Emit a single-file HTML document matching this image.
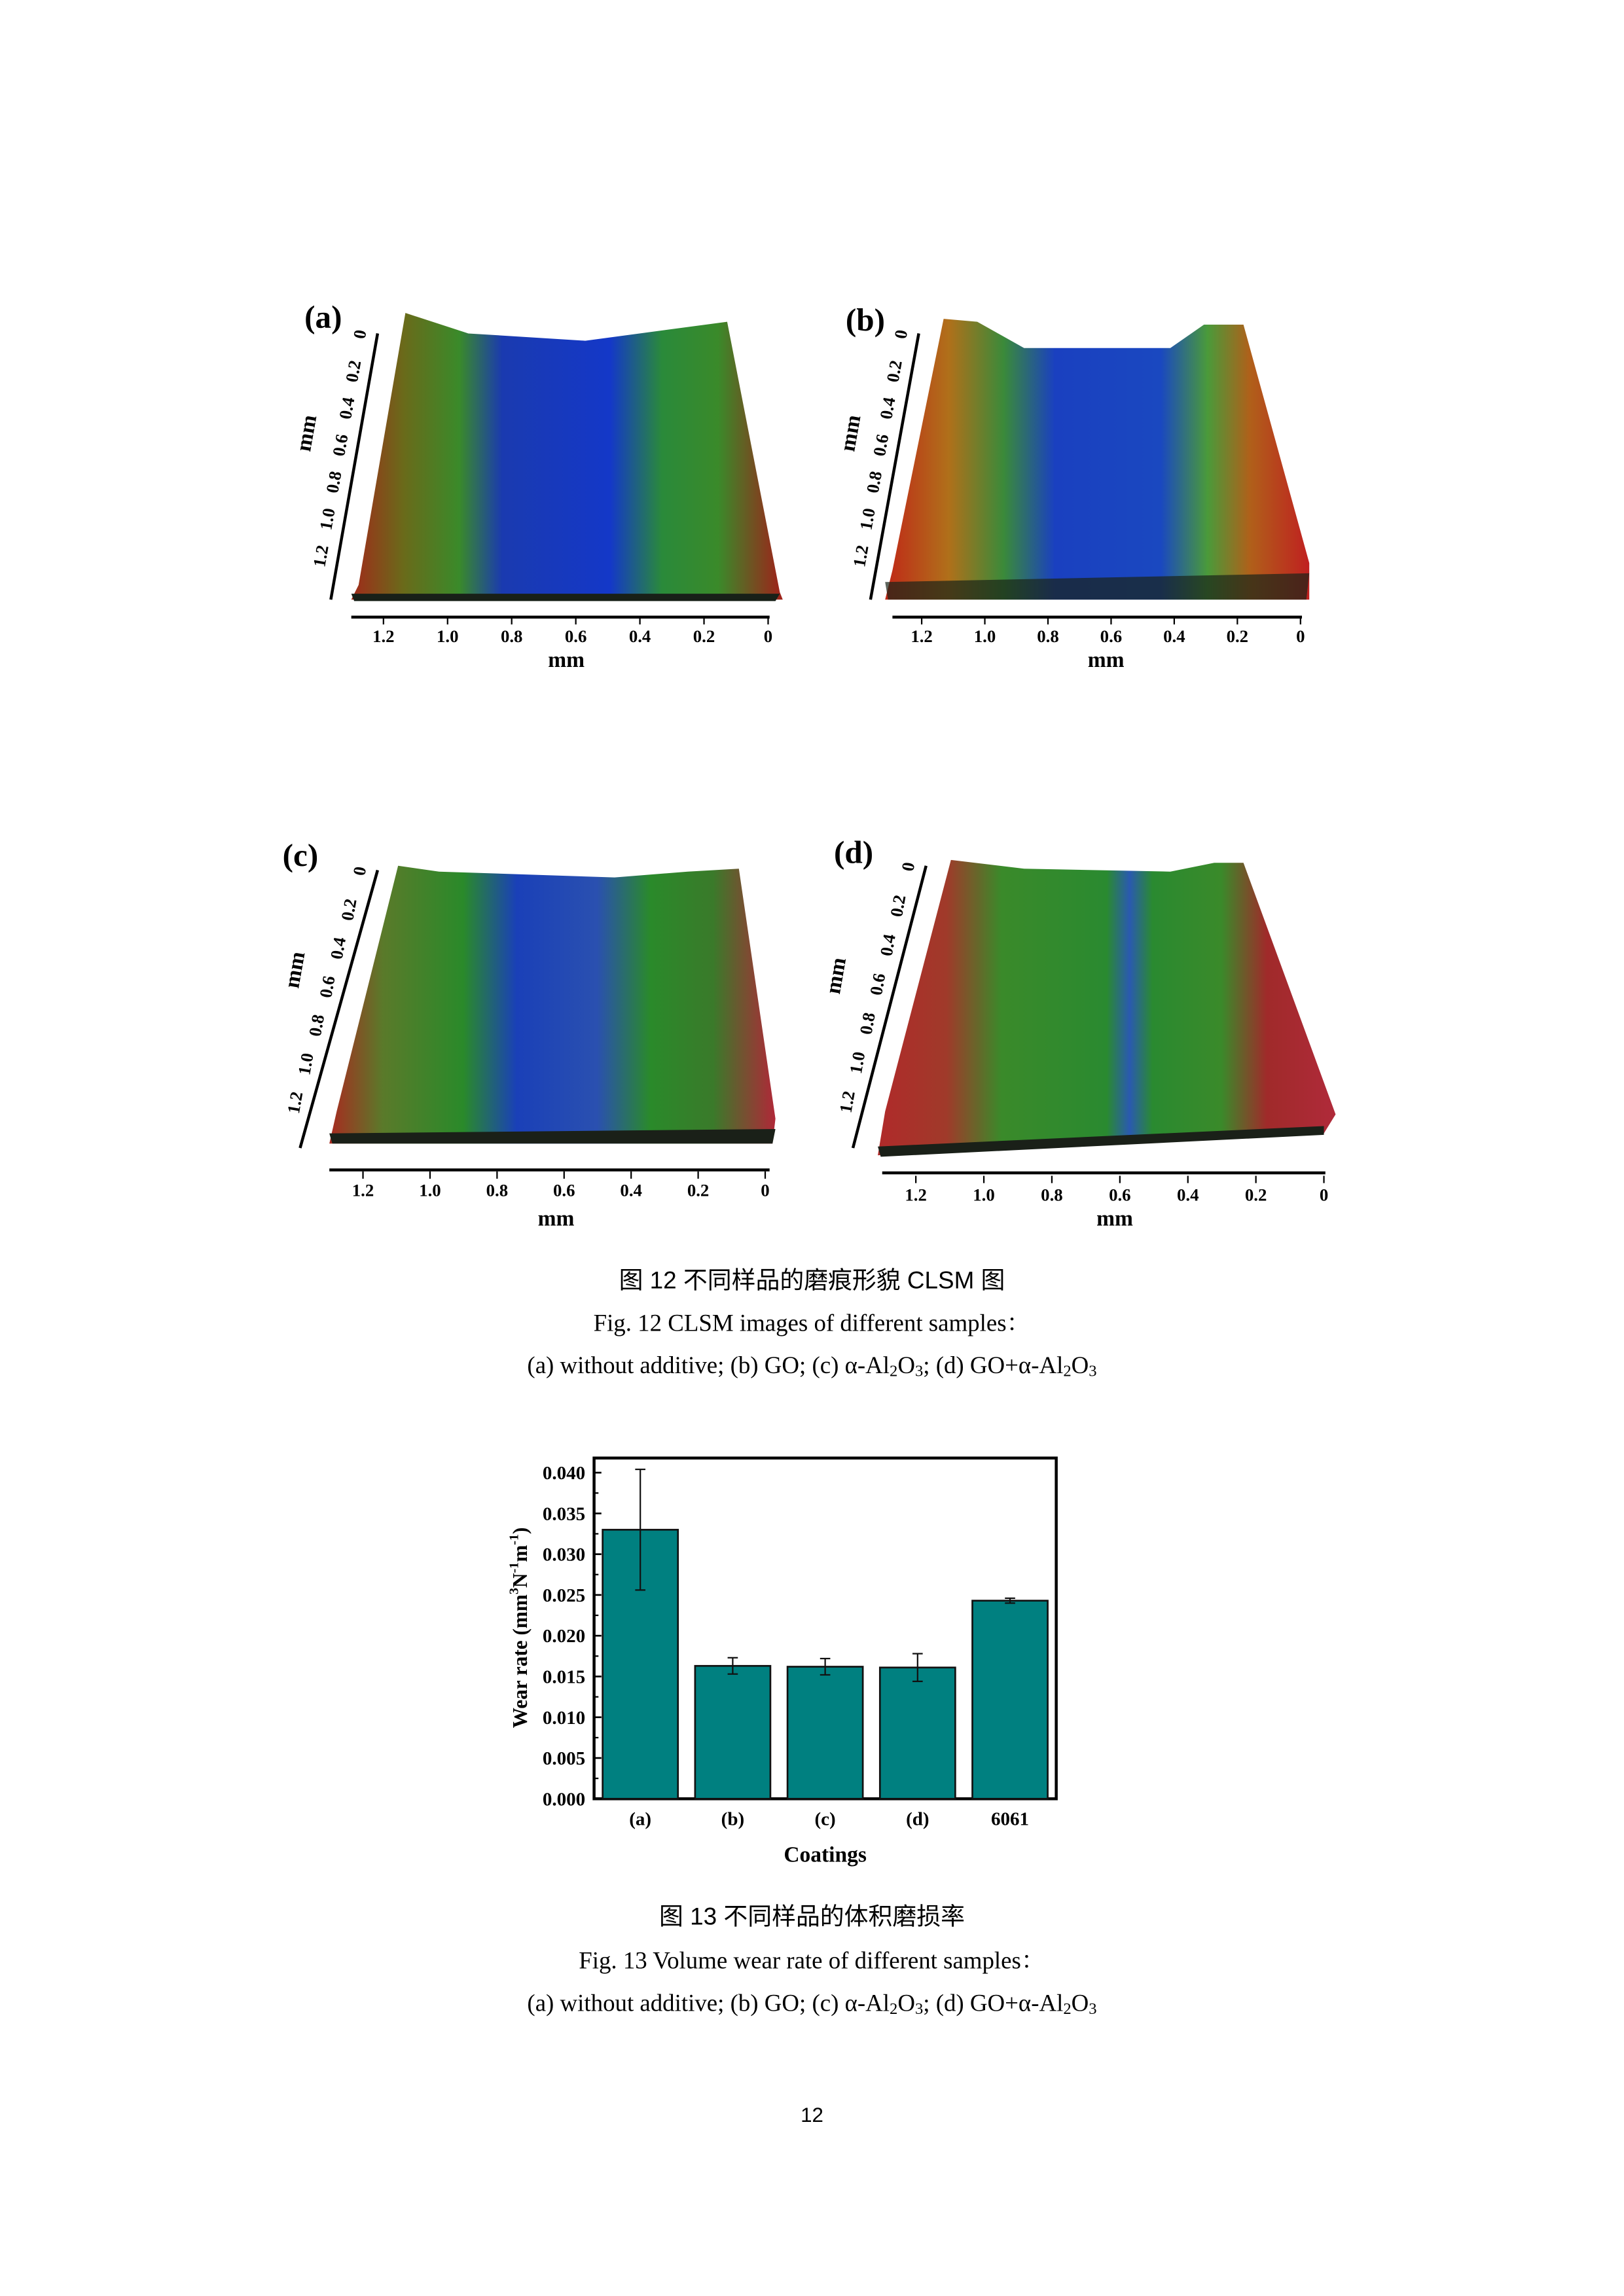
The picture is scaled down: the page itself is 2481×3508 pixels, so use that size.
<!DOCTYPE html>
<html><head><meta charset="utf-8"><style>
html,body{margin:0;padding:0;background:#fff}
svg{display:block}
.t{font-family:"Liberation Serif",serif;font-weight:bold}
.c{font-family:"Liberation Serif","Noto Serif CJK SC",serif}
.k{font-family:"Liberation Sans","Noto Sans CJK SC",sans-serif}
</style></head><body>
<svg id="page" width="2481" height="3508" viewBox="0 0 1110 1570" xmlns="http://www.w3.org/2000/svg">
<defs>
<linearGradient id="ga" x1="0" x2="1" y1="0" y2="0">
<stop offset="0" stop-color="#a02a1a"/><stop offset="0.12" stop-color="#6a6a1a"/><stop offset="0.25" stop-color="#3a8a2a"/><stop offset="0.35" stop-color="#1a3ab0"/><stop offset="0.6" stop-color="#1438c8"/><stop offset="0.72" stop-color="#2a8a3a"/><stop offset="0.85" stop-color="#3a8a2a"/><stop offset="1" stop-color="#a0201a"/></linearGradient>
<linearGradient id="gb" x1="0" x2="1" y1="0" y2="0">
<stop offset="0" stop-color="#c02818"/><stop offset="0.15" stop-color="#b0701a"/><stop offset="0.28" stop-color="#3a8a3a"/><stop offset="0.4" stop-color="#1a40c0"/><stop offset="0.65" stop-color="#1a48c0"/><stop offset="0.76" stop-color="#4a9a3a"/><stop offset="0.86" stop-color="#b0601a"/><stop offset="1" stop-color="#c02020"/></linearGradient>
<linearGradient id="gc" x1="0" x2="1" y1="0" y2="0">
<stop offset="0" stop-color="#a82a20"/><stop offset="0.12" stop-color="#5a7a2a"/><stop offset="0.3" stop-color="#2a8a2a"/><stop offset="0.42" stop-color="#1a40b8"/><stop offset="0.6" stop-color="#2a50b0"/><stop offset="0.72" stop-color="#2a8a2a"/><stop offset="0.86" stop-color="#3a7a2a"/><stop offset="1" stop-color="#b02838"/></linearGradient>
<linearGradient id="gd" x1="0" x2="1" y1="0" y2="0">
<stop offset="0" stop-color="#b02a2a"/><stop offset="0.15" stop-color="#a03a2a"/><stop offset="0.27" stop-color="#3a8a2a"/><stop offset="0.5" stop-color="#2a8a30"/><stop offset="0.55" stop-color="#2a5ab0"/><stop offset="0.6" stop-color="#2a8a30"/><stop offset="0.75" stop-color="#3a8a2a"/><stop offset="0.85" stop-color="#a02a2a"/><stop offset="1" stop-color="#b02a3a"/></linearGradient>
</defs>

<g>
<polygon points="277,214 320,228 400,233 497,220 533,405 535,410 240,410 245,400" fill="url(#ga)"/>
<polygon points="240,406 533,406 530,411 242,411" fill="#182018"/>
<text class="t" x="208" y="224" font-size="22">(a)</text>
<line x1="258" y1="228" x2="226" y2="410" stroke="#000" stroke-width="2"/>
<line x1="240" y1="422" x2="526" y2="422" stroke="#000" stroke-width="2"/>
</g>
<g>
<polygon points="645,218 668,220 700,238 800,238 823,222 850,222 895,385 895,410 605,410 610,390" fill="url(#gb)"/>
<polygon points="605,398 895,392 893,410 607,410" fill="#1a2418" opacity="0.7"/>
<text class="t" x="578" y="226" font-size="22">(b)</text>
<line x1="628" y1="228" x2="595" y2="410" stroke="#000" stroke-width="2"/>
<line x1="610" y1="422" x2="890" y2="422" stroke="#000" stroke-width="2"/>
</g>
<g>
<polygon points="272,592 300,596 420,600 470,596 505,594 530,765 528,782 225,782 230,760" fill="url(#gc)"/>
<polygon points="225,775 530,772 528,782 227,782" fill="#1a2018"/>
<text class="t" x="193" y="592" font-size="22">(c)</text>
<line x1="258" y1="595" x2="205" y2="785" stroke="#000" stroke-width="2"/>
<line x1="225" y1="800" x2="526" y2="800" stroke="#000" stroke-width="2"/>
</g>
<g>
<polygon points="650,588 700,594 800,596 830,590 850,590 913,762 905,775 600,790 605,760" fill="url(#gd)"/>
<polygon points="600,784 905,770 905,776 602,791" fill="#1a2018"/>
<text class="t" x="570" y="590" font-size="22">(d)</text>
<line x1="633" y1="592" x2="583" y2="785" stroke="#000" stroke-width="2"/>
<line x1="603" y1="802" x2="906" y2="802" stroke="#000" stroke-width="2"/>
</g>
<g id="axes3d" class="t" font-size="12"></g>

<text class="k" x="555" y="881" font-size="16.5" text-anchor="middle">图 12  不同样品的磨痕形貌 CLSM 图</text>
<text class="c" x="555" y="910" font-size="16.5" text-anchor="middle">Fig. 12 CLSM images of different samples：</text>
<text class="c" x="555" y="939" font-size="16.5" text-anchor="middle">(a) without additive; (b) GO; (c) α-Al<tspan font-size="11" dy="2">2</tspan><tspan dy="-2">O</tspan><tspan font-size="11" dy="2">3</tspan><tspan dy="-2">; (d) GO+α-Al</tspan><tspan font-size="11" dy="2">2</tspan><tspan dy="-2">O</tspan><tspan font-size="11" dy="2">3</tspan></text>

<g id="chart">
<rect x="406" y="997" width="316" height="233" fill="none" stroke="#000" stroke-width="2"/>
<g id="bars"></g>
<g id="yt" class="t" font-size="13"></g>
<g id="xt" class="t" font-size="13"></g>
<text class="t" x="564" y="1273" font-size="15" text-anchor="middle">Coatings</text>
<text class="t" transform="translate(360,1113) rotate(-90)" font-size="14" text-anchor="middle">Wear rate (mm<tspan font-size="9" dy="-6">3</tspan><tspan dy="6">N</tspan><tspan font-size="9" dy="-6">-1</tspan><tspan dy="6">m</tspan><tspan font-size="9" dy="-6">-1</tspan><tspan dy="6">)</tspan></text>
</g>

<text class="k" x="555" y="1316" font-size="16.5" text-anchor="middle">图 13  不同样品的体积磨损率</text>
<text class="c" x="555" y="1346" font-size="16.5" text-anchor="middle">Fig. 13 Volume wear rate of different samples：</text>
<text class="c" x="555" y="1375" font-size="16.5" text-anchor="middle">(a) without additive; (b) GO; (c) α-Al<tspan font-size="11" dy="2">2</tspan><tspan dy="-2">O</tspan><tspan font-size="11" dy="2">3</tspan><tspan dy="-2">; (d) GO+α-Al</tspan><tspan font-size="11" dy="2">2</tspan><tspan dy="-2">O</tspan><tspan font-size="11" dy="2">3</tspan></text>
<text class="k" x="555" y="1451" font-size="14" text-anchor="middle">12</text>
</svg>
<script>
const categories = ["(a)","(b)","(c)","(d)","6061"];
const wearRate = [0.0330,0.0163,0.0162,0.0161,0.0243];
const wearErr = [0.0074,0.0010,0.0010,0.0017,0.0003];
const yTicks = [0,0.005,0.010,0.015,0.020,0.025,0.030,0.035,0.040];
const yTickLabels = ["0.000","0.005","0.010","0.015","0.020","0.025","0.030","0.035","0.040"];
const mmTicks = ["1.2","1.0","0.8","0.6","0.4","0.2","0"];

const NS="http://www.w3.org/2000/svg";
const X0=406,X1=722,Y0=1230,YTOP=1007;
const ys=v=>Y0-(v/0.040)*(Y0-YTOP);
const step=(X1-X0)/categories.length;
const xs=i=>X0+step*(i+0.5);
const bw=51.5;
function mk(tag,attrs,parent){const e=document.createElementNS(NS,tag);for(const k in attrs)e.setAttribute(k,attrs[k]);parent.appendChild(e);return e;}
const bars=document.getElementById('bars');
categories.forEach((c,i)=>{
  const x=xs(i), v=wearRate[i], e=wearErr[i];
  const r=mk('rect',{x:x-bw/2,y:ys(v),width:bw,height:Y0-ys(v),fill:'#008080',stroke:'#111','stroke-width':1.2},bars);
  
  
  const g=mk('g',{stroke:'#111','stroke-width':1},bars);
  
  
  mk('line',{x1:x,x2:x,y1:ys(v+e),y2:ys(v-e)},g);
  mk('line',{x1:x-3.5,x2:x+3.5,y1:ys(v+e),y2:ys(v+e)},g);
  mk('line',{x1:x-3.5,x2:x+3.5,y1:ys(v-e),y2:ys(v-e)},g);
  const t=mk('text',{x:x,y:1248,'text-anchor':'middle'},document.getElementById('xt'));
  t.textContent=c;
  
  
});
const yt=document.getElementById('yt');
yTicks.forEach((v,i)=>{
  mk('line',{x1:X0,x2:X0+5,y1:ys(v),y2:ys(v),stroke:'#000','stroke-width':1.2},yt);
  if(i<yTicks.length-1) mk('line',{x1:X0,x2:X0+3,y1:ys(v+0.0025),y2:ys(v+0.0025),stroke:'#000','stroke-width':1},yt);
  const t=mk('text',{x:400,y:ys(v)+4.5,'text-anchor':'end'},yt);
  t.textContent=yTickLabels[i];
  
  
});
const ax=document.getElementById('axes3d');
const panels=[
 {xa:240,xb:526,xl:262,xr:525,yl:435,ym:452,mmx:387,s:[258,228,226,410],mmy:[214,297]},
 {xa:610,xb:890,xl:630,xr:889,yl:435,ym:452,mmx:756,s:[628,228,595,410],mmy:[586,297]},
 {xa:225,xb:526,xl:248,xr:523,yl:814,ym:834,mmx:380,s:[258,595,205,785],mmy:[206,664]},
 {xa:603,xb:906,xl:626,xr:905,yl:817,ym:834,mmx:762,s:[633,592,583,785],mmy:[576,668]}];
const yLab=["0","0.2","0.4","0.6","0.8","1.0","1.2"];
panels.forEach((p,pi)=>{
  mmTicks.forEach((m,i)=>{
    const x=p.xl+(p.xr-p.xl)*i/(mmTicks.length-1);
    mk('line',{x1:x,x2:x,y1:p.yl-13,y2:p.yl-8,stroke:'#000','stroke-width':1},ax);
    const t=mk('text',{x:x,y:p.yl+4,'text-anchor':'middle'},ax);t.textContent=m;
    
    
  });
  const mm=mk('text',{x:p.mmx,y:p.ym+4,'text-anchor':'middle','font-size':15},ax);mm.textContent='mm';
  
  
  const [x1,y1,x2,y2]=p.s;
  yLab.forEach((m,i)=>{
    const f=(i+0.05)/7.2;
    const x=x1+(x2-x1)*f-8, y=y1+(y2-y1)*f;
    const t=mk('text',{transform:`translate(${x},${y}) rotate(-80)`,'text-anchor':'middle'},ax);t.textContent=m;
    
    
  });
  const my=mk('text',{transform:`translate(${p.mmy[0]},${p.mmy[1]}) rotate(-80)`,'text-anchor':'middle','font-size':15},ax);my.textContent='mm';
  
  
});
</script>
</body></html>
